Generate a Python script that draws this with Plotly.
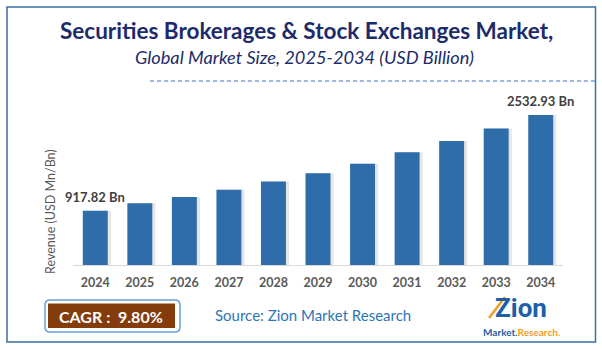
import plotly.graph_objects as go

years = ["2024", "2025", "2026", "2027", "2028", "2029", "2030", "2031", "2032", "2033", "2034"]
revenue = [917.82, 1041, 1147, 1270, 1410, 1551, 1709, 1902, 2095, 2306, 2532.93]
label_years = ["2024", "2034"]
label_texts = ["917.82 Bn", "2532.93 Bn"]
title_text = "Securities Brokerages & Stock Exchanges Market,"
subtitle_text = "Global Market Size, 2025-2034 (USD Billion)"
cagr_text = "CAGR :  9.80%"
source_text = "Source: Zion Market Research"

W, H = 602, 350
def px(x):
    return x / W
def py(y):
    return 1 - y / H

BAR = "#2E6DA9"
FONT = "Lato"

fig = go.Figure()
# soft shadow behind bars
fig.add_trace(go.Bar(x=years, y=revenue, width=0.56, offset=-0.21,
                     marker=dict(color="rgba(110,110,110,0.18)", line=dict(width=0)),
                     hoverinfo="skip", showlegend=False))
fig.add_trace(go.Bar(x=years, y=revenue, width=0.56, offset=-0.28,
                     marker=dict(color=BAR, line=dict(width=0)),
                     showlegend=False))

for yr, txt in zip(label_years, label_texts):
    i = years.index(yr)
    fig.add_annotation(x=i, y=revenue[i], text=f"<b>{txt}</b>",
                       showarrow=False, yshift=14, xref="x", yref="y",
                       font=dict(family=FONT, size=13, color="#404040"))

shapes = []
# outer frame
shapes.append(dict(type="rect", xref="paper", yref="paper", x0=px(7), x1=px(595.5),
                   y0=py(342), y1=py(7), line=dict(color="#3A6EA5", width=1.5)))
# dashed separator
shapes.append(dict(type="line", xref="paper", yref="paper", x0=px(150), x1=px(595),
                   y0=py(81), y1=py(81), line=dict(color="#7FA2DA", width=1.5, dash="4px,3px")))

# rounded CAGR box
def rrect(x0, y0, x1, y1, r):
    X0, X1 = px(x0), px(x1)
    Y0, Y1 = py(y0), py(y1)
    rx, ry = r / W, r / H
    return (f"M {X0+rx},{Y0} L {X1-rx},{Y0} Q {X1},{Y0} {X1},{Y0-ry} "
            f"L {X1},{Y1+ry} Q {X1},{Y1} {X1-rx},{Y1} L {X0+rx},{Y1} "
            f"Q {X0},{Y1} {X0},{Y1+ry} L {X0},{Y0-ry} Q {X0},{Y0} {X0+rx},{Y0} Z")
shapes.append(dict(type="path", xref="paper", yref="paper", path=rrect(45, 300, 180, 332, 5),
                   line=dict(color="#6A9FD8", width=1.5), fillcolor="white"))
shapes.append(dict(type="rect", xref="paper", yref="paper", x0=px(48), x1=px(175),
                   y0=py(328), y1=py(303.5), line=dict(width=0), fillcolor="#843C0C"))
# logo swoosh
shapes.append(dict(type="line", xref="paper", yref="paper", x0=px(489), x1=px(505),
                   y0=py(318), y1=py(297), line=dict(color="#F39C26", width=2.5)))

anns = [
    dict(x=px(306), y=py(31), text=f"<b>{title_text}</b>", font=dict(family=FONT, size=22.5, color="#1D2B6B")),
    dict(x=px(304), y=py(57), text=f"<i>{subtitle_text}</i>", font=dict(family=FONT, size=18.2, color="#1D2B6B")),
    dict(x=px(50), y=py(212), text="Revenue (USD Mn/Bn)", textangle=-90,
         font=dict(family=FONT, size=12.5, color="#595959")),
    dict(x=px(111), y=py(316), text=f"<b>{cagr_text}</b>", font=dict(family=FONT, size=16, color="white")),
    dict(x=px(313), y=py(315), text=source_text, font=dict(family=FONT, size=15, color="#2E75B6")),
    dict(x=px(521), y=py(307.5), text="<b>Zion</b>", font=dict(family="Roboto", size=26, color="#1F5FA8")),
    dict(x=px(521), y=py(332), text="<b><span style='color:#1F5FA8'>Market.</span><span style='color:#F39C26'>Research.</span></b>",
         font=dict(family=FONT, size=10, color="#1F5FA8")),
]
for a in anns:
    a.update(xref="paper", yref="paper", showarrow=False, xanchor="center", yanchor="middle",
             borderpad=0)
    fig.add_annotation(**a)

fig.update_layout(
    width=W, height=H,
    margin=dict(l=0, r=0, t=0, b=0),
    paper_bgcolor="white", plot_bgcolor="white",
    barmode="overlay", bargap=0.44,
    shapes=shapes,
    xaxis=dict(type="category", domain=[px(73), px(563)], range=[-0.5, 10.5], showline=True,
               linecolor="#D9D9D9", linewidth=1, ticks="", showgrid=False, zeroline=False,
               tickfont=dict(family=FONT, size=12.5, color="#595959", weight="bold"),
               ticklabelstandoff=6, fixedrange=True),
    yaxis=dict(domain=[py(265), py(95)], range=[0, 2870], visible=False, showgrid=False,
               zeroline=False, fixedrange=True),
)

fig.write_html("out.html")
